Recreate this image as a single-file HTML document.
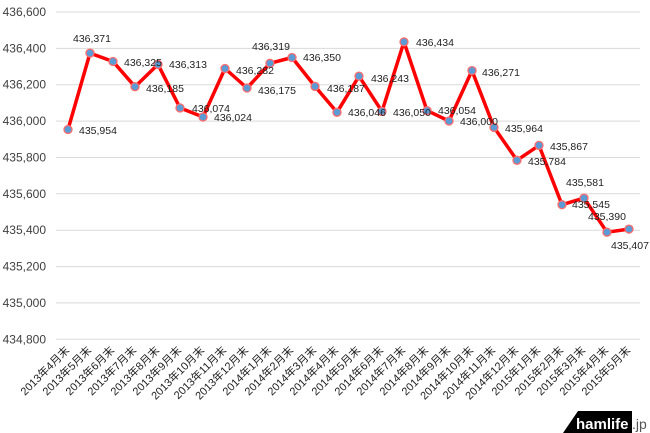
<!DOCTYPE html>
<html><head><meta charset="utf-8"><style>
html,body{margin:0;padding:0;background:#fff;}
svg{display:block;font-family:"Liberation Sans","Noto Sans CJK JP",sans-serif;}
</style></head><body>
<svg width="650" height="433" viewBox="0 0 650 433">
<g stroke="#d9d9d9" stroke-width="1">
<line x1="56" x2="640" y1="12" y2="12"/><line x1="56" x2="640" y1="48.4" y2="48.4"/>
<line x1="56" x2="640" y1="84.7" y2="84.7"/><line x1="56" x2="640" y1="121.1" y2="121.1"/>
<line x1="56" x2="640" y1="157.5" y2="157.5"/><line x1="56" x2="640" y1="193.8" y2="193.8"/>
<line x1="56" x2="640" y1="230.2" y2="230.2"/><line x1="56" x2="640" y1="266.6" y2="266.6"/>
<line x1="56" x2="640" y1="302.9" y2="302.9"/><line x1="56" x2="640" y1="339.3" y2="339.3"/>
</g>
<g font-size="12" fill="#404040" text-anchor="end">
<text x="46" y="16">436,600</text><text x="46" y="52.4">436,400</text>
<text x="46" y="88.7">436,200</text><text x="46" y="125.1">436,000</text>
<text x="46" y="161.5">435,800</text><text x="46" y="197.8">435,600</text>
<text x="46" y="234.2">435,400</text><text x="46" y="270.6">435,200</text>
<text x="46" y="306.9">435,000</text><text x="46" y="343.3">434,800</text>
</g>
<polyline fill="none" stroke="#ff0000" stroke-width="3.5" stroke-linejoin="round"
points="68,129.5 90,53.1 113,61.5 135,86.7 158,64.4 180,107.9 203,117 225,68.5 247,88 270,63.3 292,57.5 315,86.4 337,112.3 359,76.2 382,111.4 404,41.9 427,110.6 449,121 472,70.6 494,127.4 517,160.3 539,145.4 562,204.7 584,198.1 607,232.2 629,229.1"/>
<g fill="#5b9bd5" stroke="#ff6b6b" stroke-width="1.3">
<circle cx="68" cy="129.5" r="4"/><circle cx="90" cy="53.1" r="4"/><circle cx="113" cy="61.5" r="4"/><circle cx="135" cy="86.7" r="4"/><circle cx="158" cy="64.4" r="4"/><circle cx="180" cy="107.9" r="4"/><circle cx="203" cy="117" r="4"/><circle cx="225" cy="68.5" r="4"/><circle cx="247" cy="88" r="4"/><circle cx="270" cy="63.3" r="4"/><circle cx="292" cy="57.5" r="4"/><circle cx="315" cy="86.4" r="4"/><circle cx="337" cy="112.3" r="4"/><circle cx="359" cy="76.2" r="4"/><circle cx="382" cy="111.4" r="4"/><circle cx="404" cy="41.9" r="4"/><circle cx="427" cy="110.6" r="4"/><circle cx="449" cy="121" r="4"/><circle cx="472" cy="70.6" r="4"/><circle cx="494" cy="127.4" r="4"/><circle cx="517" cy="160.3" r="4"/><circle cx="539" cy="145.4" r="4"/><circle cx="562" cy="204.7" r="4"/><circle cx="584" cy="198.1" r="4"/><circle cx="607" cy="232.2" r="4"/><circle cx="629" cy="229.1" r="4"/>
</g>
<g font-size="10.5" fill="#222">
<text x="79" y="134">435,954</text><text x="73" y="42">436,371</text>
<text x="124" y="66">436,325</text><text x="146" y="92">436,185</text>
<text x="169" y="68">436,313</text><text x="192" y="112">436,074</text>
<text x="214" y="121">436,024</text><text x="236" y="74">436,282</text>
<text x="258" y="94">436,175</text><text x="252" y="50">436,319</text>
<text x="303" y="61">436,350</text><text x="327" y="92">436,187</text>
<text x="348" y="116">436,046</text><text x="371" y="82">436,243</text>
<text x="393" y="116">436,050</text><text x="416" y="46">436,434</text>
<text x="438" y="114">436,054</text><text x="460" y="125">436,000</text>
<text x="482" y="76">436,271</text><text x="505" y="132">435,964</text>
<text x="528" y="165">435,784</text><text x="550" y="150">435,867</text>
<text x="572" y="208">435,545</text><text x="566" y="186">435,581</text>
<text x="588" y="220">435,390</text><text x="611" y="249">435,407</text>
</g>
<g font-size="11" fill="#222" text-anchor="end">
<text transform="translate(70,351) rotate(-45)">2013年4月末</text>
<text transform="translate(92,351) rotate(-45)">2013年5月末</text>
<text transform="translate(115,351) rotate(-45)">2013年6月末</text>
<text transform="translate(137,351) rotate(-45)">2013年7月末</text>
<text transform="translate(160,351) rotate(-45)">2013年8月末</text>
<text transform="translate(182,351) rotate(-45)">2013年9月末</text>
<text transform="translate(205,351) rotate(-45)">2013年10月末</text>
<text transform="translate(227,351) rotate(-45)">2013年11月末</text>
<text transform="translate(249,351) rotate(-45)">2013年12月末</text>
<text transform="translate(272,351) rotate(-45)">2014年1月末</text>
<text transform="translate(294,351) rotate(-45)">2014年2月末</text>
<text transform="translate(317,351) rotate(-45)">2014年3月末</text>
<text transform="translate(339,351) rotate(-45)">2014年4月末</text>
<text transform="translate(361,351) rotate(-45)">2014年5月末</text>
<text transform="translate(384,351) rotate(-45)">2014年6月末</text>
<text transform="translate(406,351) rotate(-45)">2014年7月末</text>
<text transform="translate(429,351) rotate(-45)">2014年8月末</text>
<text transform="translate(451,351) rotate(-45)">2014年9月末</text>
<text transform="translate(474,351) rotate(-45)">2014年10月末</text>
<text transform="translate(496,351) rotate(-45)">2014年11月末</text>
<text transform="translate(519,351) rotate(-45)">2014年12月末</text>
<text transform="translate(541,351) rotate(-45)">2015年1月末</text>
<text transform="translate(564,351) rotate(-45)">2015年2月末</text>
<text transform="translate(586,351) rotate(-45)">2015年3月末</text>
<text transform="translate(609,351) rotate(-45)">2015年4月末</text>
<text transform="translate(631,351) rotate(-45)">2015年5月末</text>
</g>
<polygon points="578,411 632,411 632,433 563,433" fill="#000"/>
<text x="576" y="429" font-size="15" font-weight="bold" fill="#fff">hamlife</text>
<text x="632" y="429" font-size="14" fill="#555">.jp</text>
</svg>
</body></html>
